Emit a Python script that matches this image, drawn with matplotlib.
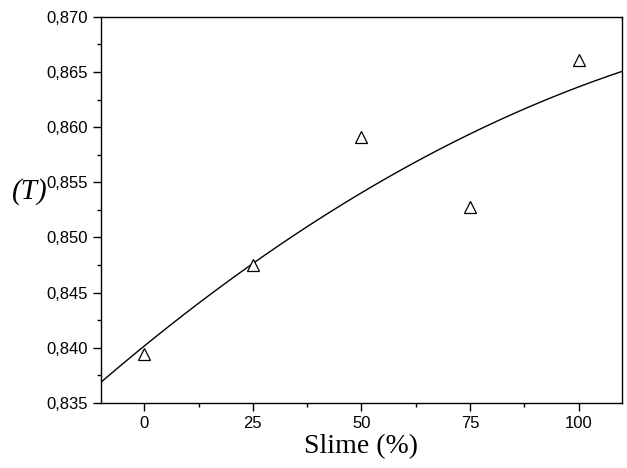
import matplotlib.pyplot as plt
import numpy as np
from matplotlib.ticker import FuncFormatter, MultipleLocator

slime = [0, 25, 50, 75, 100]
t_values = [0.8394, 0.8475, 0.8591, 0.8528, 0.8661]

coef = np.polyfit(slime, t_values, 2)
xfit = np.linspace(-10, 110, 200)
yfit = np.polyval(coef, xfit)

fig = plt.figure(figsize=(6.27, 4.68), dpi=100)
ax = fig.add_axes([0.161, 0.139, 0.831, 0.825])

ax.plot(xfit, yfit, color='black', linewidth=1.0)
ax.plot(slime, t_values, linestyle='none', marker='^', markersize=9,
        markerfacecolor='white', markeredgecolor='black', markeredgewidth=0.9)

ax.set_xlim(-10, 110)
ax.set_ylim(0.835, 0.870)
ax.xaxis.set_major_locator(MultipleLocator(25))
ax.xaxis.set_minor_locator(MultipleLocator(12.5))
ax.yaxis.set_major_locator(MultipleLocator(0.005))
ax.yaxis.set_minor_locator(MultipleLocator(0.0025))
ax.yaxis.set_major_formatter(FuncFormatter(lambda v, p: f"{v:.3f}".replace('.', ',')))

ax.tick_params(which='major', direction='out', length=6, width=1, labelsize=12)
ax.tick_params(which='minor', direction='out', length=3, width=1)
for lab in ax.get_xticklabels() + ax.get_yticklabels():
    lab.set_fontfamily('Liberation Sans')
for s in ax.spines.values():
    s.set_linewidth(1)

ax.set_xlabel('Slime (%)', fontfamily='Liberation Serif', fontsize=20, labelpad=2)
fig.text(0.048, 0.59, '(T)', fontfamily='Liberation Serif', fontstyle='italic',
         fontsize=21, ha='center', va='center')

fig.savefig('out.png', dpi=100)
